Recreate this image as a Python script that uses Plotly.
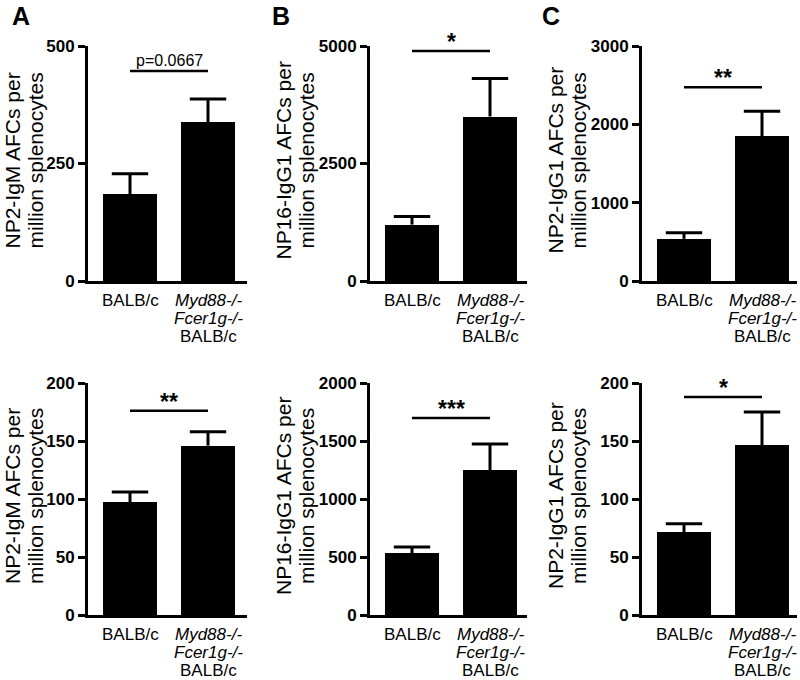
import plotly.graph_objects as go

W, H = 800, 680
FONT = "Liberation Sans, Arial, Helvetica, sans-serif"

# ---------------- data ----------------
categories = ["BALB/c", "<i>Myd88-/-</i><br><i>Fcer1g-/-</i><br>BALB/c"]

A_top_means = [185, 338]
A_top_err = [43, 49]
B_top_means = [1200, 3500]
B_top_err = [175, 810]
C_top_means = [538, 1846]
C_top_err = [77, 321]

A_bot_means = [97, 146]
A_bot_err = [9, 12]
B_bot_means = [534, 1250]
B_bot_err = [52, 224]
C_bot_means = [71.6, 146.5]
C_bot_err = [7, 28.5]

A_top_ticks = [0, 250, 500]
B_top_ticks = [0, 2500, 5000]
C_top_ticks = [0, 1000, 2000, 3000]
A_bot_ticks = [0, 50, 100, 150, 200]
B_bot_ticks = [0, 500, 1000, 1500, 2000]
C_bot_ticks = [0, 50, 100, 150, 200]

sig_labels = ["p=0.0667", "*", "**", "**", "***", "*"]
sig_heights = [447, 4893, 2474, 176, 1698, 188]

ytitles = [
    ("NP2-IgM AFCs per", "million splenocytes"),
    ("NP16-IgG1 AFCs per", "million splenocytes"),
    ("NP2-IgG1 AFCs per", "million splenocytes"),
]
panel_letters = ["A", "B", "C"]

# ---------------- layout geometry (pixels) ----------------
col_axis_x = [88, 370, 642]
col_axis_end = [247, 527, 797]
row_top = [46, 383]
row_zero = [281, 615]
title_x = [(12, 35), (283, 306), (555, 578)]
letter_x = [21, 281, 551]

panels = [
    (A_top_means, A_top_err, A_top_ticks),
    (B_top_means, B_top_err, B_top_ticks),
    (C_top_means, C_top_err, C_top_ticks),
    (A_bot_means, A_bot_err, A_bot_ticks),
    (B_bot_means, B_bot_err, B_bot_ticks),
    (C_bot_means, C_bot_err, C_bot_ticks),
]

fig = go.Figure()
annotations = []
shapes = []

first_offset = 42.0  # px from y axis to first bar centre
spacing = 78.0       # px between bar centres
bar_px = 54.0

for i, (means, err, ticks) in enumerate(panels):
    row, col = divmod(i, 3)
    n = i + 1
    xa = "x" if n == 1 else f"x{n}"
    ya = "y" if n == 1 else f"y{n}"
    xkey = "xaxis" if n == 1 else f"xaxis{n}"
    ykey = "yaxis" if n == 1 else f"yaxis{n}"

    xs = [0, 1]
    fig.add_trace(go.Bar(
        x=xs, y=means, width=bar_px / spacing,
        marker=dict(color="black", line=dict(width=0)),
        xaxis=xa, yaxis=ya, showlegend=False, hoverinfo="skip",
    ))
    # upward-only error bars: stem + cap
    stem_x, stem_y = [], []
    for xv, m, e in zip(xs, means, err):
        stem_x += [xv, xv, None]
        stem_y += [m, m + e, None]
    fig.add_trace(go.Scatter(
        x=stem_x, y=stem_y, mode="lines", line=dict(color="black", width=3),
        xaxis=xa, yaxis=ya, showlegend=False, hoverinfo="skip", cliponaxis=False,
    ))
    fig.add_trace(go.Scatter(
        x=xs, y=[m + e for m, e in zip(means, err)], mode="markers",
        marker=dict(symbol="line-ew", size=26, line=dict(color="black", width=3)),
        xaxis=xa, yaxis=ya, showlegend=False, hoverinfo="skip", cliponaxis=False,
    ))

    ax0, ax1 = col_axis_x[col], col_axis_end[col]
    y_top, y_zero = row_top[row], row_zero[row]
    xr = [-first_offset / spacing, (ax1 - ax0 - first_offset) / spacing]

    fig.layout[xkey] = dict(
        domain=[ax0 / W, ax1 / W], anchor=ya, range=xr, automargin=False,
        showline=True, linewidth=3, linecolor="black", ticks="",
        showticklabels=False,
        showgrid=False, zeroline=False, fixedrange=True,
    )
    fig.layout[ykey] = dict(
        domain=[1 - y_zero / H, 1 - y_top / H], anchor=xa, automargin=False,
        range=[0, ticks[-1]],
        showline=True, linewidth=3, linecolor="black",
        ticks="outside", ticklen=7, tickwidth=3, tickcolor="black",
        tickvals=ticks, ticktext=[str(t) for t in ticks],
        tickfont=dict(family=FONT, size=17, color="black", weight="bold"),
        showgrid=False, zeroline=False, fixedrange=True,
    )

    # category labels (one annotation per line for tight line spacing)
    for c, cat in enumerate(categories):
        for k, line in enumerate(cat.split("<br>")):
            annotations.append(dict(
                xref=xa, yref="paper", x=c, y=1 - (y_zero + 19 + 18 * k) / H,
                text=line, showarrow=False, xanchor="center", yanchor="middle",
                font=dict(family=FONT, size=17, color="black"),
            ))

    # significance line + label
    shapes.append(dict(type="line", xref=xa, yref=ya, x0=0, x1=1,
                       y0=sig_heights[i], y1=sig_heights[i],
                       line=dict(color="black", width=2.5)))
    lab = sig_labels[i]
    is_p = lab.startswith("p")
    annotations.append(dict(
        xref=xa, yref=ya, x=0.5, y=sig_heights[i],
        text=lab if is_p else f"<b>{lab}</b>", showarrow=False,
        xanchor="center", yanchor="bottom", yshift=0 if is_p else -6,
        font=dict(family=FONT, size=16 if is_p else 23, color="black"),
    ))

    # y title (two lines)
    yc = (y_top + y_zero) / 2 - 3
    for k, line in enumerate(ytitles[col]):
        annotations.append(dict(
            xref="paper", yref="paper", x=title_x[col][k] / W, y=1 - yc / H,
            text=line, textangle=-90, showarrow=False,
            xanchor="center", yanchor="middle",
            font=dict(family=FONT, size=21, color="black"),
        ))

for col, letter in enumerate(panel_letters):
    annotations.append(dict(
        xref="paper", yref="paper", x=letter_x[col] / W, y=1 - 16 / H,
        text=f"<b>{letter}</b>", showarrow=False, xanchor="center", yanchor="middle",
        font=dict(family=FONT, size=25, color="black"),
    ))

fig.update_layout(
    template="none",
    width=W, height=H, margin=dict(l=0, r=0, t=0, b=0, autoexpand=False),
    paper_bgcolor="white", plot_bgcolor="white",
    annotations=annotations, shapes=shapes, bargap=0,
    font=dict(family=FONT, color="black"),
)

fig.write_html(
    "out.html",
    config={"displayModeBar": False},
    post_script="document.body.style.margin='0';document.body.style.overflow='hidden';",
)
